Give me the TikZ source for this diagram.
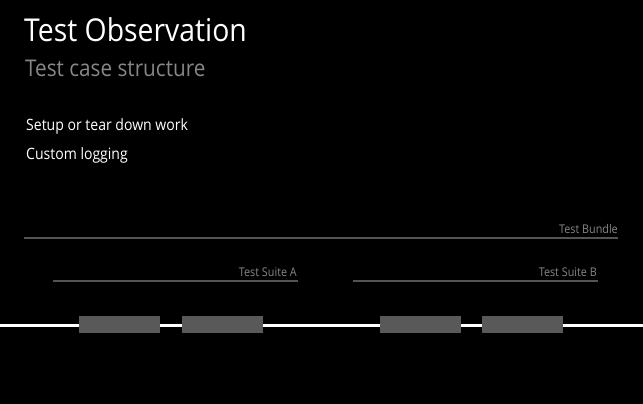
\documentclass[tikz,border=0pt]{standalone}
\usepackage{fontspec}
\setmainfont[FakeStretch=0.9]{Open Sans}
\begin{document}
\begin{tikzpicture}[x=1pt,y=-1pt,
  title/.style={anchor=base west,inner sep=0pt,text=white,font=\fontsize{31.5}{38}\selectfont},
  subtitle/.style={anchor=base west,inner sep=0pt,text=white!53!black,font=\fontsize{23}{28}\selectfont},
  bullet/.style={anchor=base west,inner sep=0pt,text=white,font=\fontsize{15.6}{19}\selectfont},
  grouplabel/.style={anchor=base east,inner sep=0pt,text=white!53!black,font=\fontsize{12}{14}\selectfont},
  groupline/.style={draw=white!33!black,line width=2pt},
  testbox/.style={draw=none,fill=white!35!black,minimum width=81pt,minimum height=17pt,inner sep=0pt},
  runline/.style={draw=white,line width=3pt}]
\fill[black] (0,0) rectangle (643,404);
\useasboundingbox (0,0) rectangle (643,404);
\node[title] (t) at (24,42) {Test Observation};
\node[subtitle] (st) at (25,77) {Test case structure};
\node[bullet] (b1) at (26,131) {Setup or tear down work};
\node[bullet] (b2) at (26,159) {Custom logging};
% groups
\coordinate (tb1) at (24,238); \coordinate (tb2) at (618,238);
\draw[groupline] (tb1) -- (tb2);
\node[grouplabel] (tbl) at (618,233) {Test Bundle};
\coordinate (sa1) at (53,281); \coordinate (sa2) at (298,281);
\draw[groupline] (sa1) -- (sa2);
\node[grouplabel] (sal) at (297,276) {Test Suite A};
\coordinate (sb1) at (353,281); \coordinate (sb2) at (598,281);
\draw[groupline] (sb1) -- (sb2);
\node[grouplabel] (sbl) at (597,276) {Test Suite B};
% run line
\coordinate (l0) at (0,325); \coordinate (l1) at (643,325);
\draw[runline] (l0) -- (l1);
\node[testbox] (c1) at (119.5,324.5) {};
\node[testbox] (c2) at (222.5,324.5) {};
\node[testbox] (c3) at (420.5,324.5) {};
\node[testbox] (c4) at (522.5,324.5) {};
\end{tikzpicture}
\end{document}
